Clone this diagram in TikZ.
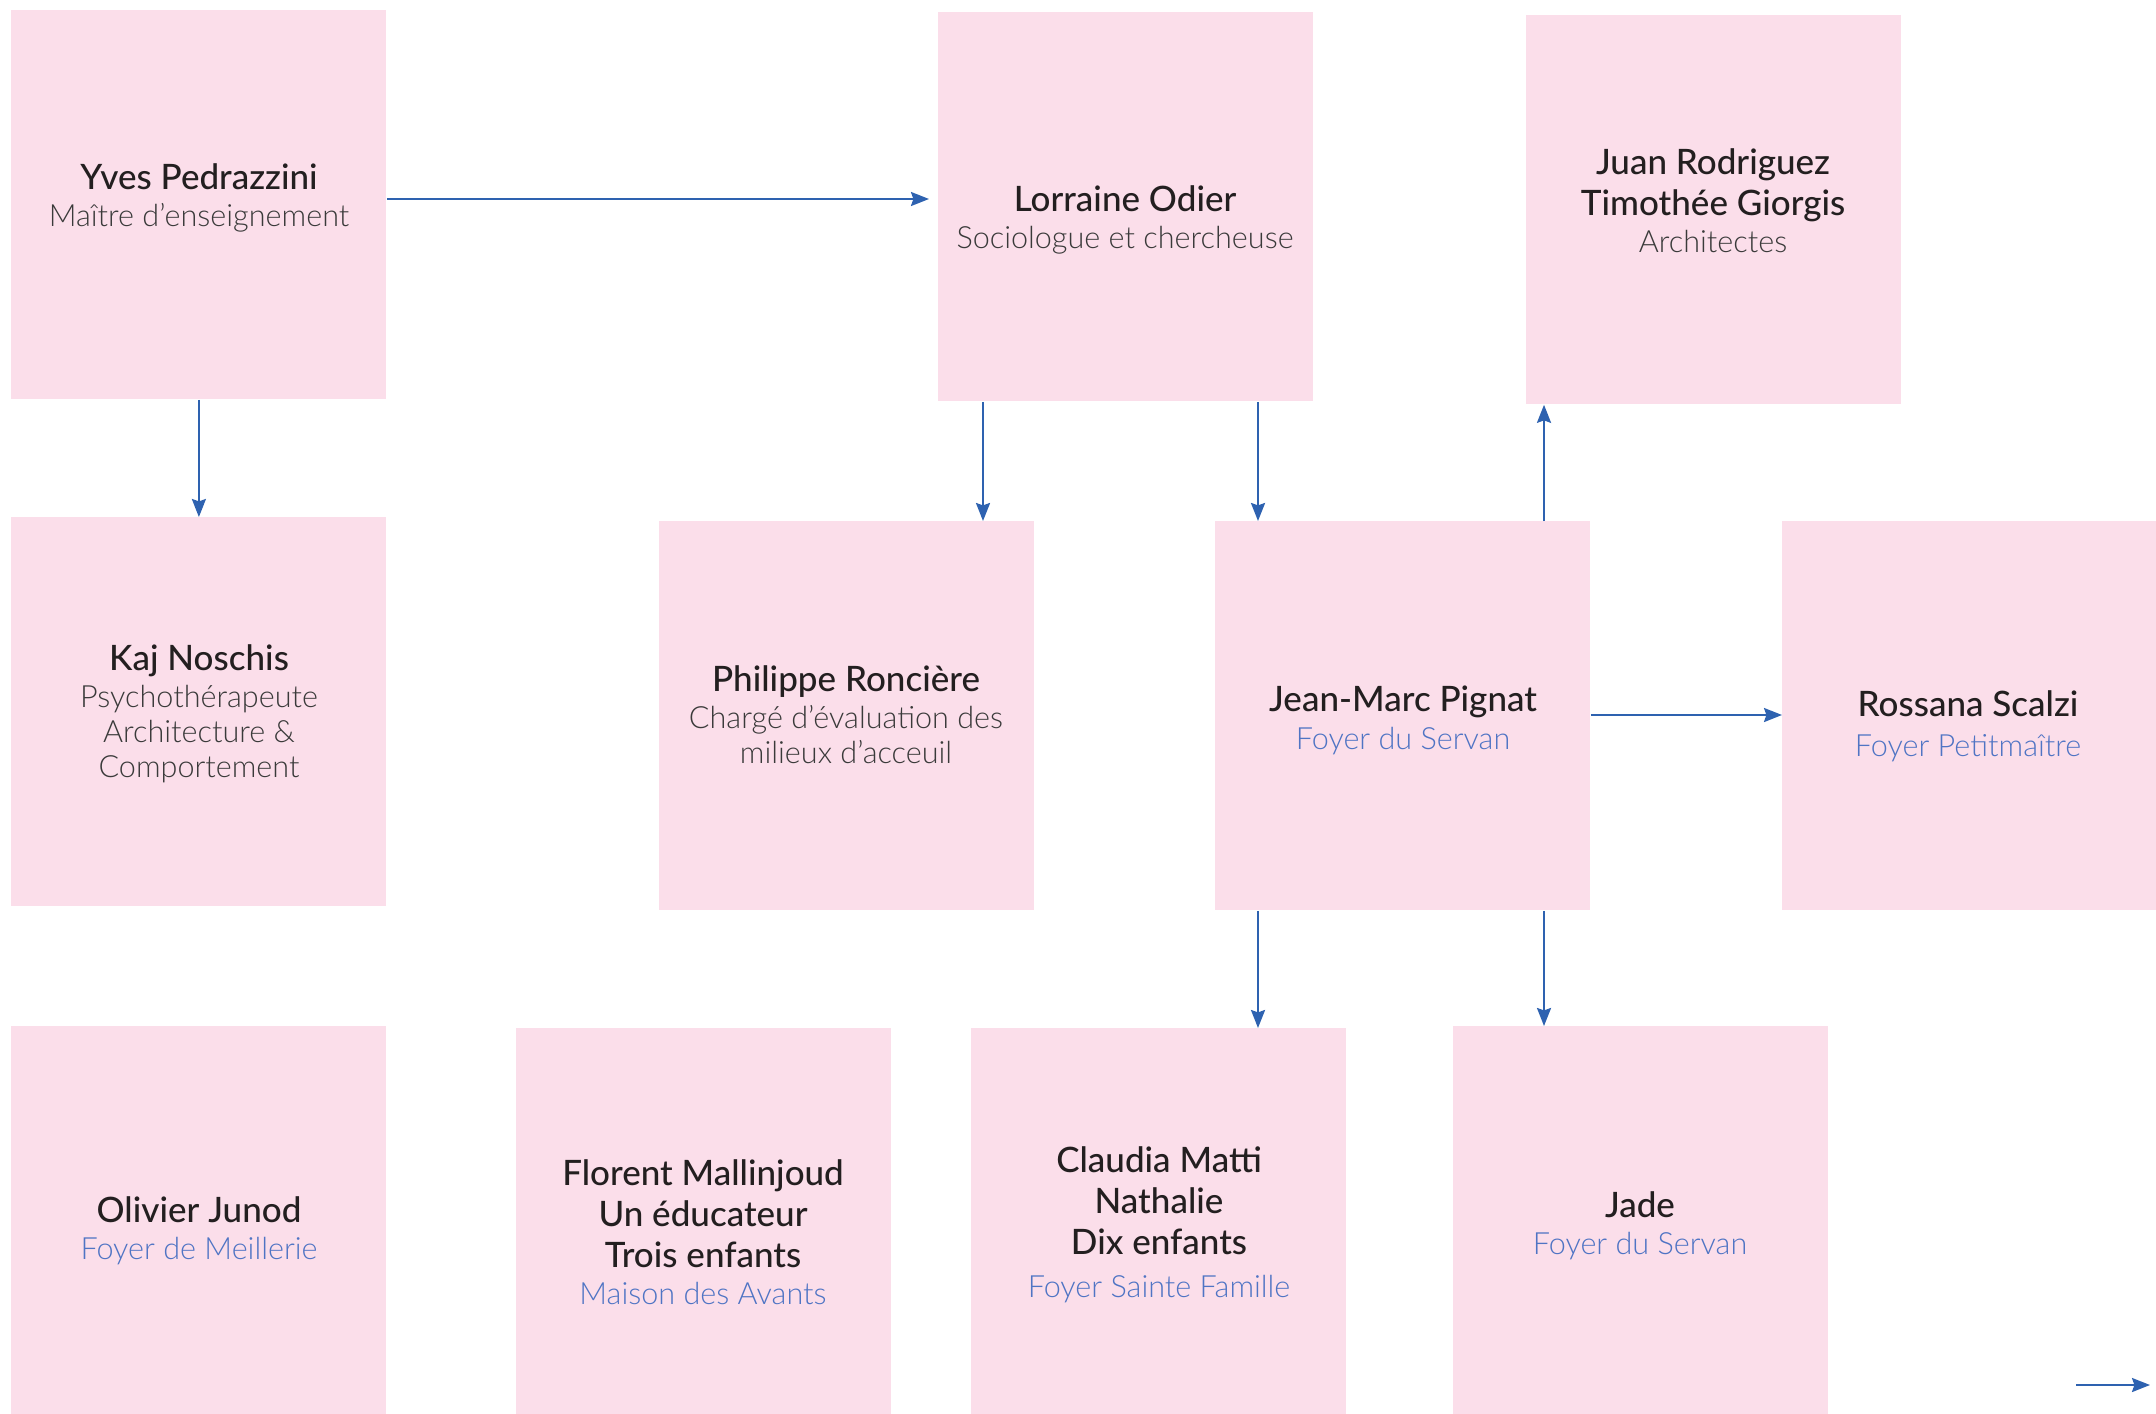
\documentclass[tikz,border=0pt]{standalone}
\usepackage{fontspec}
\setmainfont{Lato}
\IfFontExistsTF{Lato Light}{\newfontfamily\lightf{Lato Light}}{\newfontfamily\lightf{Lato}}
\IfFontExistsTF{Lato Medium}{\newfontfamily\medf{Lato Medium}}{\newfontfamily\medf{Lato}}
\usetikzlibrary{arrows.meta}
\definecolor{boxpink}{HTML}{FBDEEA}
\definecolor{arrblue}{HTML}{2E62B0}
\definecolor{txtblue}{HTML}{4F74C4}
\definecolor{namec}{HTML}{231F20}
\definecolor{subgray}{HTML}{3A3A3A}
\newcommand{\subtxt}[1]{{\lightf\fontsize{15.3}{18}\selectfont\color{subgray}#1}}
\newcommand{\bluetxt}[1]{{\lightf\fontsize{15.3}{18}\selectfont\color{txtblue}#1}}
\tikzset{
  box/.style={fill=boxpink, draw=none, minimum width=187.5pt, minimum height=194.5pt, anchor=north west, inner sep=0pt},
  txt/.style={align=center, text=namec, font=\medf\fontsize{17.5}{20.5}\selectfont, inner sep=0pt},
  arr/.style={draw=arrblue, line width=1.15pt, -{Stealth[length=9pt,width=7pt,inset=1.2pt]}},
}
\begin{document}
\begin{tikzpicture}[x=0.5pt,y=-0.5pt]
\useasboundingbox (0,0) rectangle (2156,1413);
% boxes
\node[box] (yves) at (11,10) {};
\node[box] (lorraine) at (938,12) {};
\node[box] (juan) at (1526,15) {};
\node[box] (kaj) at (11,517) {};
\node[box] (philippe) at (659,521) {};
\node[box] (jeanmarc) at (1215,521) {};
\node[box] (rossana) at (1782,521) {};
\node[box] (olivier) at (11,1026) {};
\node[box] (florent) at (516,1028) {};
\node[box] (claudia) at (971,1028) {};
\node[box] (jade) at (1453,1026) {};
% texts
\node[txt] (tyves) at (199,198) {Yves Pedrazzini\\[-2pt]\subtxt{Maître d’enseignement}};
\node[txt] (tlorraine) at (1125,220) {Lorraine Odier\\[-2pt]\subtxt{Sociologue et chercheuse}};
\node[txt] (tjuan) at (1713,201) {Juan Rodriguez\\Timothée Giorgis\\[-2pt]\subtxt{Architectes}};
\node[txt] (tkaj) at (199,714) {Kaj Noschis\\[-2pt]\subtxt{Psychothérapeute}\\[-3pt]\subtxt{Architecture \&}\\[-3pt]\subtxt{Comportement}};
\node[txt] (tphilippe) at (846,715) {Philippe Roncière\\[-2pt]\subtxt{Chargé d’évaluation des}\\[-3pt]\subtxt{milieux d’acceuil}};
\node[txt] (tjeanmarc) at (1403,720) {Jean-Marc Pignat\\[-1.5pt]\bluetxt{Foyer du Servan}};
\node[txt] (trossana) at (1968,726) {Rossana Scalzi\\[-0.5pt]\bluetxt{Foyer Petitmaître}};
\node[txt] (tolivier) at (199,1231) {Olivier Junod\\[-2pt]\bluetxt{Foyer de Meillerie}};
\node[txt] (tflorent) at (703,1232) {Florent Mallinjoud\\Un éducateur\\Trois enfants\\[-2pt]\bluetxt{Maison des Avants}};
\node[txt] (tclaudia) at (1159,1225) {Claudia Matti\\Nathalie\\Dix enfants\\[1pt]\bluetxt{Foyer Sainte Famille}};
\node[txt] (tjade) at (1640,1226) {Jade\\[-2pt]\bluetxt{Foyer du Servan}};
% helper coordinates
\coordinate (xa) at (983,0);
\coordinate (xb) at (1258,0);
\coordinate (xc) at (1544,0);
\coordinate (ya) at (0,199);
\coordinate (yb) at (0,715);
\coordinate (la) at (2076,1385);
\coordinate (lb) at (2150,1385);
% connectors
\draw[arr, shorten >=4.5pt] (yves.east |- ya) -- (lorraine.west |- ya);
\draw[arr] (yves.south) -- (kaj.north);
\draw[arr] (lorraine.south -| xa) -- (philippe.north -| xa);
\draw[arr] (lorraine.south -| xb) -- (jeanmarc.north -| xb);
\draw[arr] (jeanmarc.north -| xc) -- (juan.south -| xc);
\draw[arr] (jeanmarc.east |- yb) -- (rossana.west |- yb);
\draw[arr] (jeanmarc.south -| xb) -- (claudia.north -| xb);
\draw[arr] (jeanmarc.south -| xc) -- (jade.north -| xc);
\draw[arr] (la) -- (lb);
\end{tikzpicture}
\end{document}
